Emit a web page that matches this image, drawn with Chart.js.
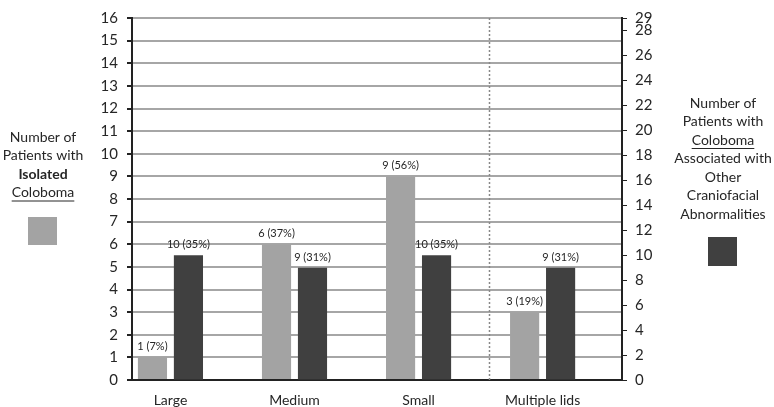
<!DOCTYPE html>
<html>
<head>
<meta charset="utf-8">
<script src="https://cdn.jsdelivr.net/npm/chart.js@4/dist/chart.umd.min.js"></script>
<style>
  html, body { margin: 0; padding: 0; background: #fff; }
  #wrap { width: 774px; height: 407px; }
</style>
</head>
<body>
<div id="wrap"><canvas id="colobomaChart"></canvas></div>
<script>
// data
const categories = ['Large', 'Medium', 'Small', 'Multiple lids'];
const isolated = [1, 6, 9, 3];                 // left axis
const associated = [10, 9, 10, 9];             // right axis
const isolatedLabels = ['1 (7%)', '6 (37%)', '9 (56%)', '3 (19%)'];
const associatedLabels = ['10 (35%)', '9 (31%)', '10 (35%)', '9 (31%)'];
const leftTicks = [0, 1, 2, 3, 4, 5, 6, 7, 8, 9, 10, 11, 12, 13, 14, 15, 16];
const rightTicks = [0, 2, 4, 6, 8, 10, 12, 14, 16, 18, 20, 22, 24, 26, 28, 29];

const txt = '#262626';
const lightGray = '#a3a3a3';
const darkGray = '#404040';

// bar value labels
const valueLabels = {
  id: 'valueLabels',
  afterDatasetsDraw(chart) {
    const ctx = chart.ctx;
    const sets = [isolatedLabels, associatedLabels];
    ctx.save();
    ctx.font = '11px Lato';
    ctx.fillStyle = txt;
    ctx.textAlign = 'center';
    ctx.textBaseline = 'bottom';
    sets.forEach((labels, d) => {
      chart.getDatasetMeta(d).data.forEach((bar, i) => {
        ctx.fillText(labels[i], bar.x, bar.y - 5);
      });
    });
    ctx.restore();
  }
};

// dotted separator + side legends
const extras = {
  id: 'extras',
  afterDraw(chart) {
    const ctx = chart.ctx;
    const area = chart.chartArea;
    const xs = chart.scales.x;
    ctx.save();
    // separator between Small and Multiple lids
    const sx = Math.round((xs.getPixelForValue(2) + xs.getPixelForValue(3)) / 2 + 8) + 0.5;
    ctx.strokeStyle = '#888';
    ctx.lineWidth = 1.5;
    ctx.setLineDash([2, 2]);
    ctx.beginPath();
    ctx.moveTo(sx, area.top);
    ctx.lineTo(sx, area.bottom);
    ctx.stroke();
    ctx.setLineDash([]);

    function block(lines, cx, y0, lh) {
      ctx.textAlign = 'center';
      ctx.textBaseline = 'middle';
      ctx.fillStyle = txt;
      lines.forEach((l, i) => {
        ctx.font = (l.bold ? 'bold ' : '') + '14px Lato';
        const y = y0 + i * lh;
        ctx.fillText(l.t, cx, y);
        if (l.under) {
          const w = ctx.measureText(l.t).width;
          ctx.strokeStyle = txt;
          ctx.lineWidth = 1;
          ctx.beginPath();
          ctx.moveTo(cx - w / 2, y + 8.5);
          ctx.lineTo(cx + w / 2, y + 8.5);
          ctx.stroke();
        }
      });
    }
    block([{t: 'Number of'}, {t: 'Patients with'}, {t: 'Isolated', bold: true}, {t: 'Coloboma', under: true}], 43, 137, 18.5);
    ctx.fillStyle = lightGray;
    ctx.fillRect(28, 217, 29, 28);

    block([{t: 'Number of'}, {t: 'Patients with'}, {t: 'Coloboma', under: true}, {t: 'Associated with'},
           {t: 'Other'}, {t: 'Craniofacial'}, {t: 'Abnormalities'}], 723, 103, 18.5);
    ctx.fillStyle = darkGray;
    ctx.fillRect(708, 237, 29, 29);
    ctx.restore();
  }
};

new Chart(document.getElementById('colobomaChart'), {
  type: 'bar',
  data: {
    datasets: [{
      label: 'Isolated Coloboma',
      data: isolated.map((v, i) => ({x: i, y: v})),
      backgroundColor: lightGray,
      yAxisID: 'y',
      categoryPercentage: 0.58,
      barPercentage: 0.81
    }, {
      label: 'Coloboma Associated with Other Craniofacial Abnormalities',
      data: associated.map((v, i) => ({x: i, y: v})),
      backgroundColor: darkGray,
      yAxisID: 'y2',
      categoryPercentage: 0.58,
      barPercentage: 0.81
    }]
  },
  options: {
    responsive: true,
    maintainAspectRatio: false,
    animation: false,
    layout: { padding: { top: 9, left: 0, right: 0, bottom: 0 } },
    plugins: { legend: { display: false }, tooltip: { enabled: false } },
    scales: {
      x: {
        type: 'linear',
        min: -0.31,
        max: 3.64,
        offset: false,
        grid: { display: false },
        border: { color: '#222', width: 2 },
        afterBuildTicks: (s) => { s.ticks = categories.map((c, i) => ({value: i})); },
        afterFit: (s) => { s.height = 27; },
        ticks: {
          callback: (v) => categories[v],
          color: txt,
          font: { family: 'Lato', size: 14 },
          padding: 4,
          maxRotation: 0,
          autoSkip: false
        }
      },
      y: {
        position: 'left',
        min: 0,
        max: 16,
        grid: { color: '#a6a6a6', lineWidth: 2, tickColor: '#222', tickLength: 5 },
        border: { color: '#222', width: 2 },
        afterBuildTicks: (s) => { s.ticks = leftTicks.map(v => ({value: v})); },
        afterFit: (s) => { s.width = 132; },
        ticks: { color: txt, font: { family: 'Lato', size: 15 }, padding: 9 }
      },
      y2: {
        position: 'right',
        min: 0,
        max: 29,
        grid: { drawOnChartArea: false, tickColor: '#222', tickLength: 5 },
        border: { color: '#222', width: 2 },
        afterBuildTicks: (s) => { s.ticks = rightTicks.map(v => ({value: v})); },
        afterFit: (s) => { s.width = 152; },
        ticks: { color: txt, font: { family: 'Lato', size: 15 }, padding: 8, autoSkip: false }
      }
    }
  },
  plugins: [valueLabels, extras]
});
</script>
</body>
</html>
